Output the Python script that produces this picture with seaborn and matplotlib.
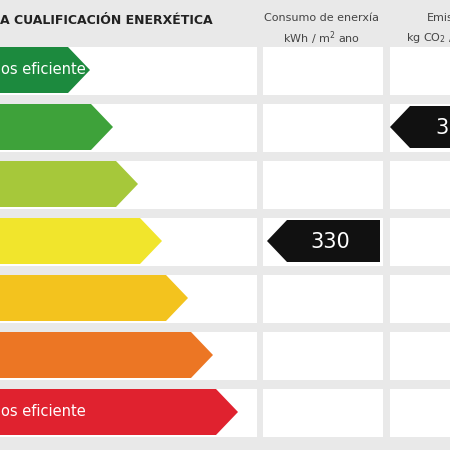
import matplotlib
matplotlib.use("Agg")
import matplotlib.pyplot as plt
import seaborn as sns
from matplotlib.patches import Polygon, Rectangle

sns.set_theme(style="white")
plt.rcParams['font.family'] = ['DejaVu Sans']

classes = ["A", "B", "C", "D", "E", "F", "G"]
colors = ["#1c8a3e", "#3ea23a", "#a6c83a", "#f1e52c", "#f3c31e", "#ec7624", "#e0222f"]
bar_end = [90, 113, 138, 162, 188, 213, 238]
row_labels = ["os eficiente", "", "", "", "", "", "os eficiente"]
consumo_value = "330"
consumo_row = 3
emis_value = "3"
emis_row = 1

fig = plt.figure(figsize=(4.5, 4.5), dpi=100)
ax = fig.add_axes([0, 0, 1, 1])
ax.set_xlim(0, 450)
ax.set_ylim(450, 0)
ax.axis("off")
fig.patch.set_facecolor("#e9e9e9")

row_h = 57
top0 = 47
bh = 46
for i, c in enumerate(classes):
    y0 = top0 + i * row_h
    cy = y0 + bh / 2
    for x0, w in [(0, 257), (263, 120), (390, 60)]:
        ax.add_patch(Rectangle((x0, y0), w, bh + 2, facecolor="white", edgecolor="none"))
    e = bar_end[i]
    ax.add_patch(Polygon([(0, y0), (e - 22, y0), (e, cy), (e - 22, y0 + bh), (0, y0 + bh)],
                         closed=True, facecolor=colors[i], edgecolor="none"))
    if row_labels[i]:
        ax.text(1, cy, row_labels[i], color="white", fontsize=10.5, va="center", ha="left")

def tag(x0, x1, row, txt, tx):
    y0 = top0 + row * row_h + 2
    cy = y0 + 21
    ax.add_patch(Polygon([(x0, cy), (x0 + 20, y0), (x1, y0), (x1, y0 + 42), (x0 + 20, y0 + 42)],
                         closed=True, facecolor="#111111", edgecolor="none"))
    ax.text(tx, cy + 1, txt, color="white", fontsize=15, va="center", ha="center")

tag(267, 380, consumo_row, consumo_value, 330)
tag(390, 460, emis_row, emis_value, 442)

ax.text(0, 20, "A CUALIFICACIÓN ENERXÉTICA", fontsize=9, fontweight="bold", va="center", color="#222222")
ax.text(322, 18, "Consumo de enerxía", fontsize=8, ha="center", va="center", color="#444444")
ax.text(322, 38, "kWh / m$^2$ ano", fontsize=8, ha="center", va="center", color="#444444")
ax.text(427, 18, "Emis", fontsize=8, ha="left", va="center", color="#444444")
ax.text(406, 38, "kg CO$_2$ /", fontsize=8, ha="left", va="center", color="#444444")

fig.savefig("out.png", dpi=100, facecolor=fig.get_facecolor())
